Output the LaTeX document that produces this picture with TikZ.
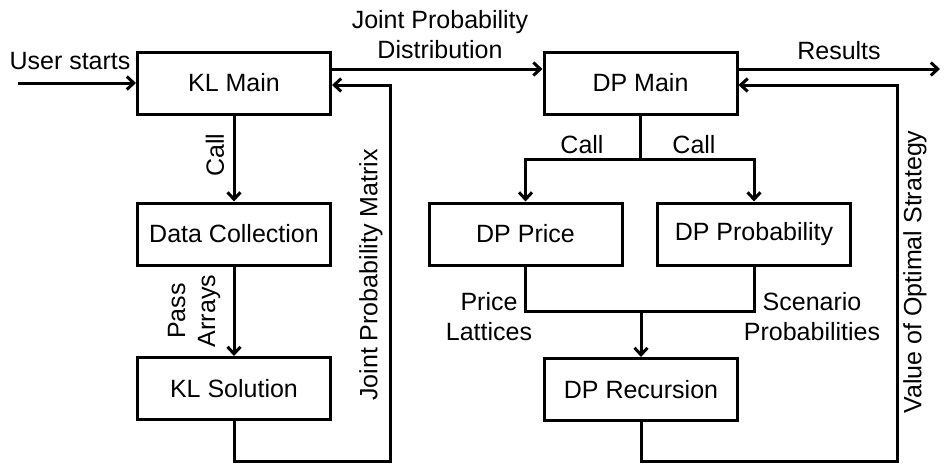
\documentclass[tikz,border=0pt]{standalone}
\usepackage{fontspec}
\setmainfont{Liberation Sans}
\usetikzlibrary{arrows.meta}
\begin{document}
\begin{tikzpicture}[x=1pt,y=-1pt,
  every node/.style={font=\fontsize{25}{30}\selectfont, inner sep=0pt},
  box/.style={draw, line width=3pt, minimum width=193pt, minimum height=62pt},
  conn/.style={line width=3pt},
  arr/.style={conn, -{Straight Barb[length=7pt,width=13pt]}},
  lbl/.style={align=center}
]
\useasboundingbox (0,0) rectangle (944,466);
% boxes
\node[box] (klmain) at (234,83) {KL Main};
\node[box] (datacol) at (234,234) {Data Collection};
\node[box] (klsol) at (234,388.5) {KL Solution};
\node[box] (dpmain) at (640.5,83) {DP Main};
\node[box] (dpprice) at (525.5,234) {DP Price};
\node[box] (dpprob) at (754,234) {DP Probability};
\node[box] (dprec) at (641,389.5) {DP Recursion};
% coordinates
\coordinate (us) at (18,83);
\coordinate (res) at (940,69);
\coordinate (klb) at (234,461);
\coordinate (klr) at (390,461);
\coordinate (dpb) at (641,461);
\coordinate (dpr) at (897,461);
\coordinate (split) at (640.5,159);
\coordinate (merge) at (641,311);
% left side
\draw[arr] (us) -- (klmain.west);
\node[lbl] (uslbl) at (70,61) {User starts};
\draw[arr] ([yshift=14pt]klmain.east) -- ([yshift=14pt]dpmain.west);
\node[lbl] (jpd) at (440,35) {Joint Probability\\Distribution};
\draw[arr] (klmain.south) -- (datacol.north);
\node[lbl, rotate=90] (call1) at (215,155) {Call};
\draw[arr] (datacol.south) -- (klsol.north);
\node[lbl, rotate=90] (pass) at (194,311) {Pass\\Arrays};
\draw[arr] (klsol.south) -- (klb) -- (klr) -- (klr |- 0,85) -- ([yshift=-2pt]klmain.east);
\node[lbl, rotate=90] (jpm) at (371,275) {Joint Probability Matrix};
% right side
\draw[arr] ([yshift=14pt]dpmain.east) -- (res);
\node[lbl] (reslbl) at (839,51) {Results};
\draw[conn] (dpmain.south) -- (split);
\draw[arr] (split) -| (dpprice.north);
\draw[arr] (split) -| (dpprob.north);
\node[lbl] (call2) at (582,145) {Call};
\node[lbl] (call3) at (694,145) {Call};
\draw[conn] (dpprice.south) |- (merge);
\draw[conn] (dpprob.south) |- (merge);
\draw[arr] (merge) -- (dprec.north);
\node[lbl] (pl) at (489,317) {Price\\Lattices};
\node[lbl] (sp) at (812,317) {Scenario\\Probabilities};
\draw[arr] (dprec.south) -- (dpb) -- (dpr) -- (dpr |- 0,85) -- ([yshift=-2pt]dpmain.east);
\node[lbl, rotate=90] (vos) at (915,272) {Value of Optimal Strategy};
\end{tikzpicture}
\end{document}
